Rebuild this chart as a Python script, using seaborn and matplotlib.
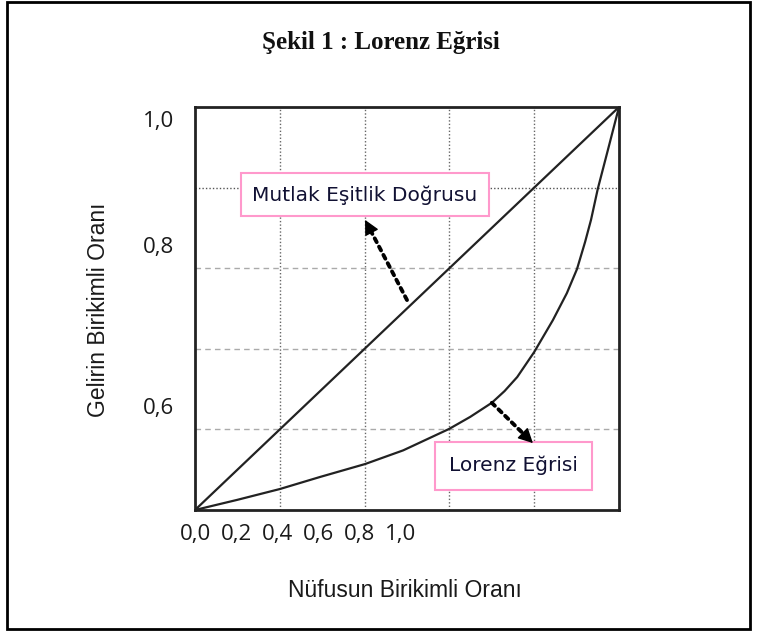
import numpy as np
import pandas as pd
import matplotlib
matplotlib.use("Agg")
import matplotlib.pyplot as plt
from matplotlib.patches import Rectangle
import seaborn as sns

# ---- data ----
equality_x = [0.0, 1.0]
equality_y = [0.0, 1.0]
lorenz_x = [0.0, 0.099, 0.200, 0.295, 0.401, 0.491, 0.599, 0.649, 0.700, 0.730,
            0.760, 0.800, 0.844, 0.877, 0.901, 0.920, 0.934, 0.950, 0.972, 1.0]
lorenz_y = [0.0, 0.025, 0.052, 0.082, 0.114, 0.148, 0.201, 0.231, 0.266, 0.295,
            0.330, 0.392, 0.471, 0.538, 0.598, 0.665, 0.720, 0.797, 0.886, 1.0]
x_tick_labels = ["0,0", "0,2", "0,4", "0,6", "0,8", "1,0"]
y_tick_labels = ["1,0", "0,8", "0,6"]
title = "Şekil 1 : Lorenz Eğrisi"
x_label = "Nüfusun Birikimli Oranı"
y_label = "Gelirin Birikimli Oranı"
note_equality = "Mutlak Eşitlik Doğrusu"
note_lorenz = "Lorenz Eğrisi"

sns.set_theme(style="white")
plt.rcParams["font.family"] = ["DejaVu Sans"]

W, H = 758, 633
fig = plt.figure(figsize=(W / 100, H / 100), dpi=100)
left, right, top, bottom = 195, 619, 107, 510
ax = fig.add_axes([left / W, 1 - bottom / H, (right - left) / W, (bottom - top) / H])

eq_df = pd.DataFrame({"x": equality_x, "y": equality_y})
lz_df = pd.DataFrame({"x": lorenz_x, "y": lorenz_y})
sns.lineplot(data=eq_df, x="x", y="y", ax=ax, color="#222222", lw=1.6, sort=False, zorder=3)
sns.lineplot(data=lz_df, x="x", y="y", ax=ax, color="#222222", lw=1.6, sort=False, zorder=3)

ax.set_xlim(0, 1)
ax.set_ylim(0, 1)

# grid
grid_pos = np.linspace(0.2, 0.8, 4)
for g in grid_pos:
    ax.axvline(g, color="#666666", lw=1.0, ls=(0, (1, 1.5)), zorder=1)
for g in grid_pos[:3]:
    ax.axhline(g, color="#aaaaaa", lw=1.0, ls=(0, (4, 3)), zorder=1)
ax.axhline(grid_pos[3], color="#555555", lw=1.0, ls=(0, (1, 1.5)), zorder=1)

for s in ax.spines.values():
    s.set_visible(True)
    s.set_color("#222222")
    s.set_linewidth(2.0)

tick_font = dict(family="Open Sans", size=16, color="#1a1a1a")
xt = np.arange(len(x_tick_labels)) * 0.097
ax.set_xticks(xt)
ax.set_xticklabels(x_tick_labels, **tick_font)
ax.set_yticks([0.971, 0.658, 0.258])
ax.set_yticklabels(y_tick_labels, **tick_font)
ax.tick_params(axis="both", length=0)
ax.tick_params(axis="x", pad=10)
ax.tick_params(axis="y", pad=15)

ax.set_xlabel(x_label, family="Liberation Sans", fontsize=16.5, color="#1a1a1a")
ax.xaxis.set_label_coords(0.495, -0.170)
ax.set_ylabel(y_label, family="Liberation Sans", fontsize=16.5, color="#1a1a1a", va="center")
ax.yaxis.set_label_coords(-0.227, 0.496)

ax.text(0.401, 0.782, note_equality, ha="center", va="center", fontsize=14.5,
        color="#111133", zorder=5,
        bbox=dict(boxstyle="square,pad=0.58", fc="white", ec="#ff99cc", lw=1.5))
ax.text(0.751, 0.110, note_lorenz, ha="center", va="center", fontsize=14.5,
        color="#111133", zorder=5,
        bbox=dict(boxstyle="square,pad=0.7", fc="white", ec="#ff99cc", lw=1.5))


def dotted_arrow(tail, tip):
    tail = np.asarray(tail, float)
    tip = np.asarray(tip, float)
    neck = tip + (tail - tip) * 0.12
    ax.annotate("", xy=neck, xytext=tail, zorder=6,
                arrowprops=dict(arrowstyle="-", color="black", lw=2.8,
                                ls=(0, (1.1, 1.3)), shrinkA=0, shrinkB=0))
    ax.annotate("", xy=tip, xytext=neck, zorder=6,
                arrowprops=dict(arrowstyle="-|>,head_length=0.75,head_width=0.38",
                                color="black", lw=1.0, shrinkA=0, shrinkB=0))


dotted_arrow((0.500, 0.521), (0.401, 0.720))
dotted_arrow((0.700, 0.266), (0.797, 0.166))

fig.text(381 / W, 1 - 43 / H, title, ha="center", va="center",
         family="Liberation Serif", fontweight="bold", fontsize=18, color="#111111")

fig.patches.append(Rectangle((7 / W, 1 - 629 / H), (750 - 7) / W, (629 - 2) / H,
                             transform=fig.transFigure, fill=False, ec="black", lw=2))

fig.savefig("out.png", dpi=100)
